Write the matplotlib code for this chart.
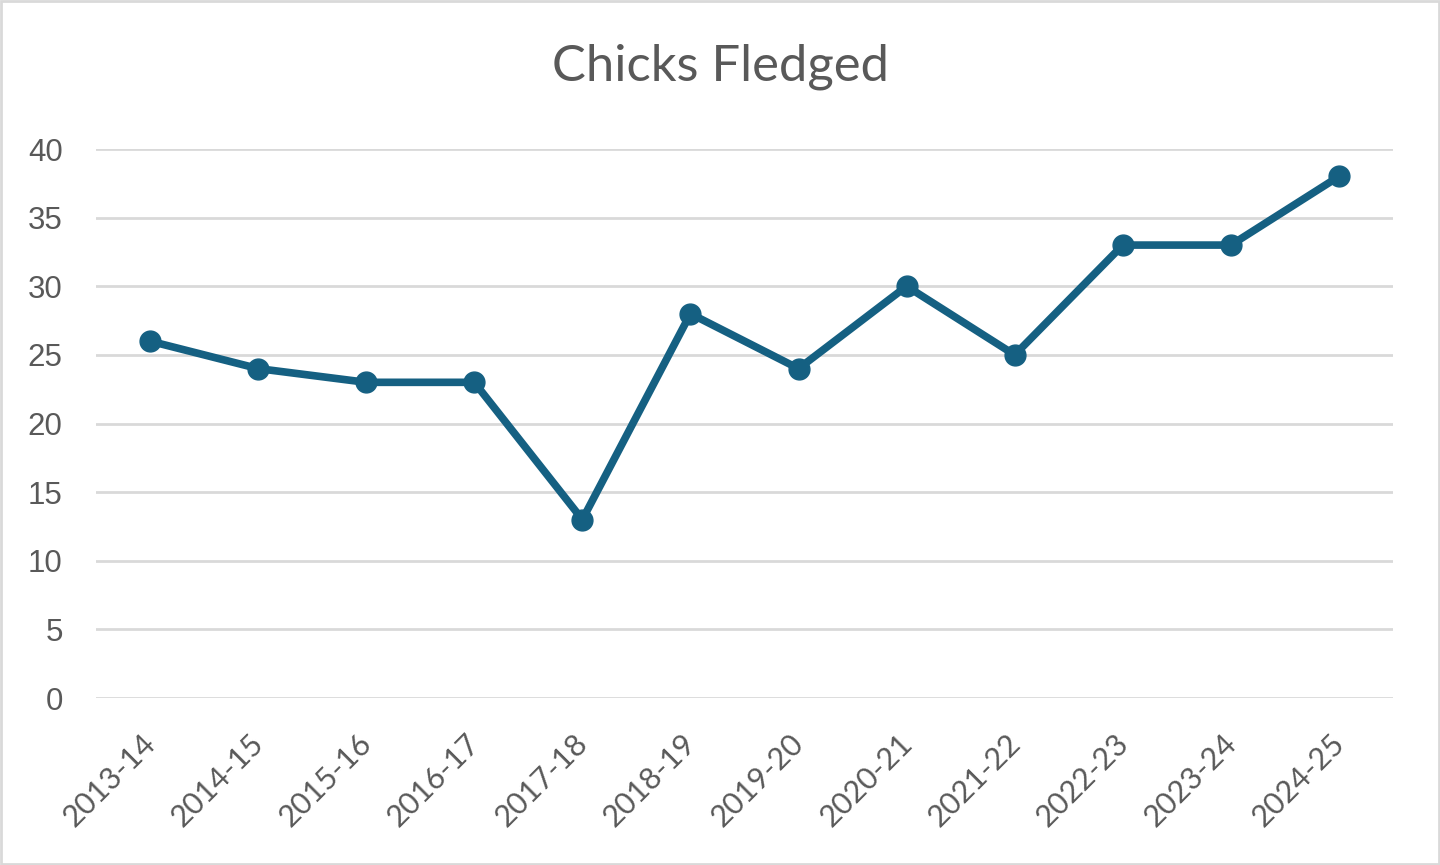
import matplotlib
matplotlib.use("Agg")
import matplotlib.pyplot as plt
from matplotlib.patches import Rectangle
import matplotlib.transforms as mtransforms

seasons = ["2013-14", "2014-15", "2015-16", "2016-17", "2017-18", "2018-19",
           "2019-20", "2020-21", "2021-22", "2022-23", "2023-24", "2024-25"]
chicks = [26, 24, 23, 23, 13, 28, 24, 30, 25, 33, 33, 38]
yticks = [0, 5, 10, 15, 20, 25, 30, 35, 40]

TEXT = "#595959"
LINE = "#156082"
GRID = "#d9d9d9"

fig = plt.figure(figsize=(14.4, 8.65), dpi=100)
ax = fig.add_axes([96/1440, 1-698/865, (1393-96)/1440, (698-149)/865])

x = list(range(len(seasons)))
ax.plot(x, chicks, color=LINE, linewidth=5.5, marker="o", markersize=15,
        solid_capstyle="round", solid_joinstyle="round", zorder=3)

ax.set_xlim(-0.5, len(seasons) - 0.5)
ax.set_ylim(0, 40)
ax.set_yticks(yticks)
ax.set_yticklabels([str(v) for v in yticks], fontsize=22.5, color=TEXT,
                   fontfamily="Liberation Sans")
ax.set_xticks(x)
ax.set_xticklabels(seasons, rotation=45, ha="right", rotation_mode="anchor",
                   fontsize=22, color=TEXT, fontfamily="Lato")
ax.tick_params(axis="both", length=0)
ax.tick_params(axis="y", pad=24)
ax.tick_params(axis="x", pad=22)
offset = mtransforms.ScaledTranslation(-9/100, 0, fig.dpi_scale_trans)
for lbl in ax.get_xticklabels():
    lbl.set_transform(lbl.get_transform() + offset)
ax.grid(axis="y", color=GRID, linewidth=2)
ax.set_axisbelow(True)
for s in ax.spines.values():
    s.set_visible(False)

fig.text(720/1440, 1-67/865, "Chicks Fledged", ha="center", va="center",
         fontsize=36.5, color=TEXT, fontfamily="Lato")

fig.patches.append(Rectangle((0.001, 0.001), 0.998, 0.998, transform=fig.transFigure,
                             fill=False, edgecolor="#d9d9d9", linewidth=2))

fig.savefig("out.png", dpi=100)
